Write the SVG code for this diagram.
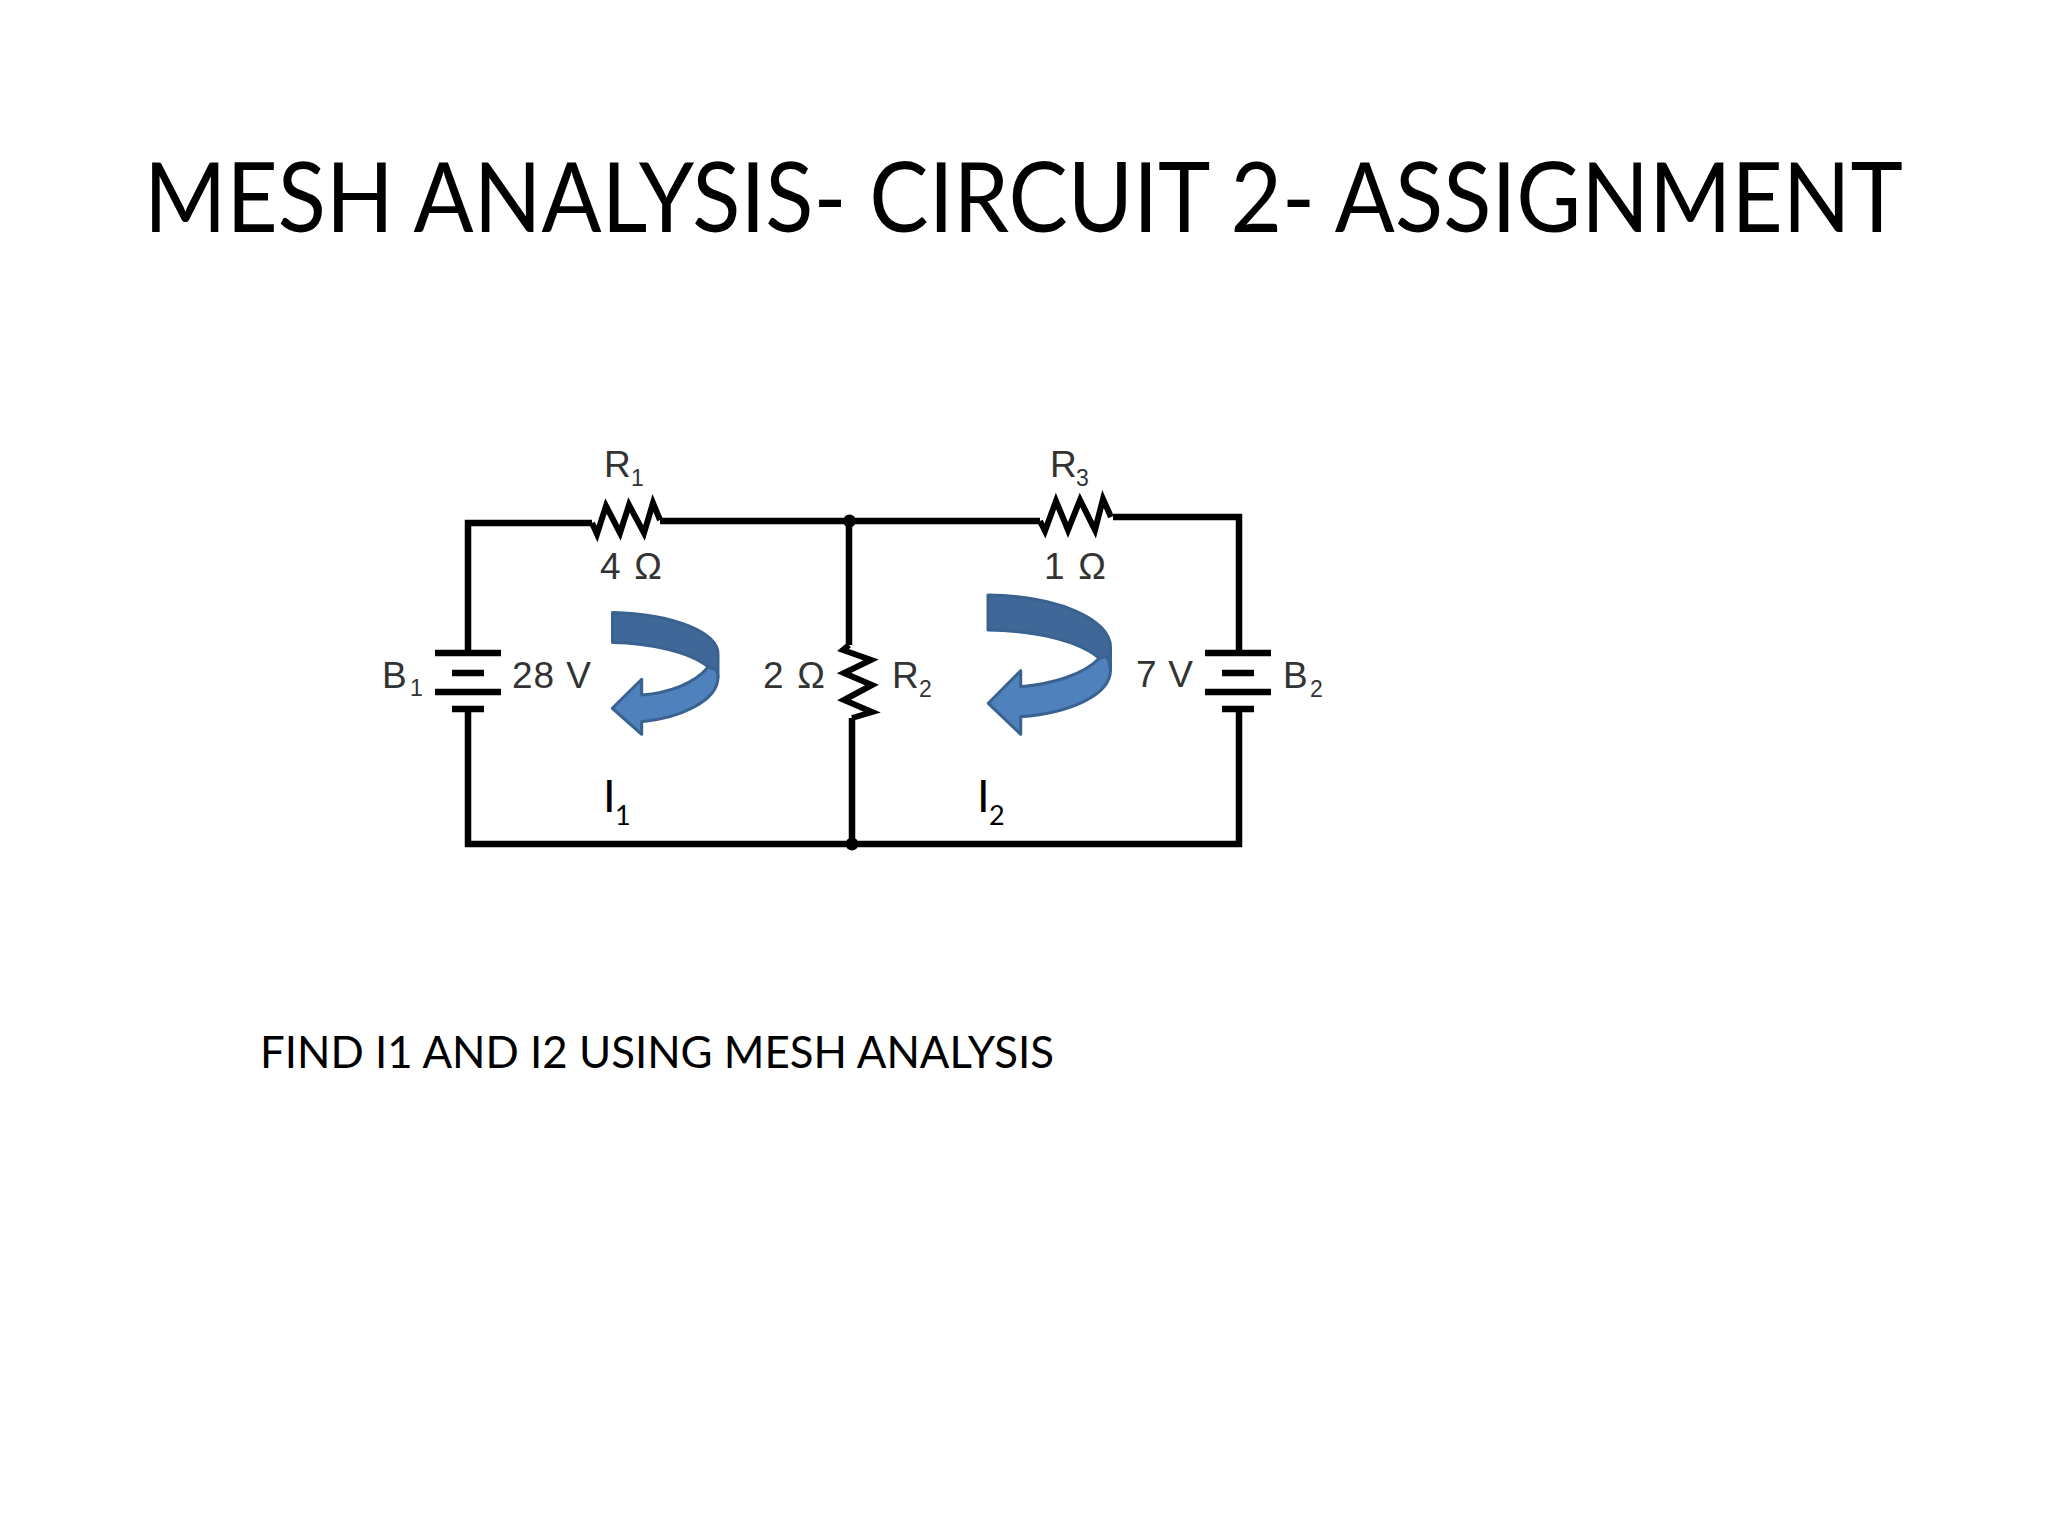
<svg xmlns="http://www.w3.org/2000/svg" width="2048" height="1536" viewBox="0 0 2048 1536">
<style>
.w{fill:none;stroke:#000;stroke-width:6.500;stroke-linejoin:miter}
.z{fill:none;stroke:#000;stroke-width:6;stroke-linejoin:miter}
.p{stroke:#000;stroke-width:6.500;fill:none}
.s{font-family:"Liberation Sans",sans-serif;fill:#333}
.l{font-size:37px}
.u{font-size:23px}
.t{font-family:"Lato","Carlito",sans-serif;fill:#000}
.dk{fill:#3f6797;stroke:#3a6291;stroke-width:3;stroke-linejoin:round}
.lt{fill:#4f81bd;stroke:#3a6291;stroke-width:3;stroke-linejoin:round}
</style>
<rect width="2048" height="1536" fill="#fff"/>
<text id="title" class="t" x="144" y="232" font-size="96" textLength="1759" lengthAdjust="spacingAndGlyphs">MESH ANALYSIS- CIRCUIT 2- ASSIGNMENT</text>
<g id="connectors">
<path class="w" d="M592 523H468V650M468 709V844H1239V709M1239 650V517H1113M660 521H1040M849 521V645M852 718V844"/>
</g>
<g id="R1"><path class="z" d="M592 523L597 534L606 506L620 533L629 505L644 533L653 503L660 520"/>
<text class="s l" x="604" y="477">R</text><text class="s u" x="631" y="486">1</text><text class="s l" x="600" y="579" textLength="62">4 Ω</text></g>
<g id="R2"><path class="z" d="M849 645L843 650L871 660L844 673L872 685L844 700L872 712L852 718"/>
<text class="s l" x="763" y="688" textLength="62">2 Ω</text><text class="s l" x="892" y="688">R</text><text class="s u" x="919" y="697">2</text></g>
<g id="R3"><path class="z" d="M1040 521L1045 531L1056 501L1068 530L1080 500L1095 530L1103 499L1111 517"/>
<text class="s l" x="1050" y="477">R</text><text class="s u" x="1076" y="486">3</text><text class="s l" x="1044" y="579" textLength="62">1 Ω</text></g>
<g id="B1"><path class="p" d="M435 653H501M452 673H484M435 692H501M452 709H484"/>
<text class="s l" x="382" y="688">B</text><text class="s u" x="410" y="696">1</text><text class="s l" x="512" y="688" textLength="79">28 V</text></g>
<g id="B2"><path class="p" d="M1205 653H1271M1222 673H1254M1205 692H1271M1222 709H1254"/>
<text class="s l" x="1283" y="688">B</text><text class="s u" x="1310" y="697">2</text><text class="s l" x="1136" y="687" textLength="57">7 V</text></g>
<g id="node-top"><circle cx="849.500" cy="521" r="6.500"/></g>
<g id="node-bottom"><circle cx="852" cy="844" r="6.500"/></g>
<g id="arrow1">
<path class="lt" d="M718 677C718 701 680 718 641.700 721.700V734.300L612.300 708.300L641.700 679.300V695C668 693 694 684 708.300 667L716 664Z"/>
<path class="dk" d="M612.500 612.500C675 614 718 633 718 654V677C718 672 716 668 714 669L708.300 667C690 652 650 643 612.500 642.500Z"/>
</g>
<g id="arrow2">
<path class="lt" d="M1110.500 670C1110.500 695 1070 713 1020.700 716.700V734.300L988.300 703.300L1020.700 670.700V686.700C1052 684 1083 675 1099.300 658.300L1108 654Z"/>
<path class="dk" d="M988 595C1060 596 1110.500 620 1110.500 647V670C1110.500 666 1109 660 1106 656L1099.300 658.300C1080 642 1040 631 988 630Z"/>
</g>
<g id="I1"><text class="t" x="603" y="812" font-size="45">I</text><text class="t" x="615" y="825" font-size="27">1</text></g>
<g id="I2"><text class="t" x="977" y="812" font-size="45">I</text><text class="t" x="989" y="825" font-size="27">2</text></g>
<text id="task" class="t" x="260" y="1068" font-size="44" textLength="794" lengthAdjust="spacingAndGlyphs">FIND I1 AND I2 USING MESH ANALYSIS</text>
</svg>
